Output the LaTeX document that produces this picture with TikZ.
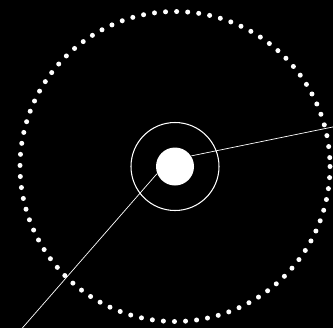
\documentclass[tikz,border=0pt]{standalone}
\usetikzlibrary{calc}

\begin{document}
\begin{tikzpicture}[x=0.03cm,y=-0.03cm,line width=0.9pt]
  % fondo
  \fill[black] (0,0) rectangle (333,328);
  \useasboundingbox (0,0) rectangle (333,328);
  \tikzset{dotmark/.style={fill=white,circle,inner sep=0pt,minimum size=0.15cm}}
  % anillo de puntos
  \coordinate (c) at (175,166.5);
  \foreach \a in {0,4.1,...,359} \node[dotmark] at ($(c)+(\a:155)$) {};
  % anillo fino y centro
  \node[draw=white,circle,inner sep=0pt,minimum size=2.64cm] (ring) at (c) {};
  \node[fill=white,circle,inner sep=0pt,minimum size=1.14cm] (hub) at (c) {};
  % radios
  \coordinate (endR) at (345,124.5);
  \coordinate (endL) at (18,333);
  \draw[white,line width=0.6pt] (hub.33) -- (endR);
  \draw[white,line width=0.6pt] (hub.202) -- (endL);
\end{tikzpicture}
\end{document}
